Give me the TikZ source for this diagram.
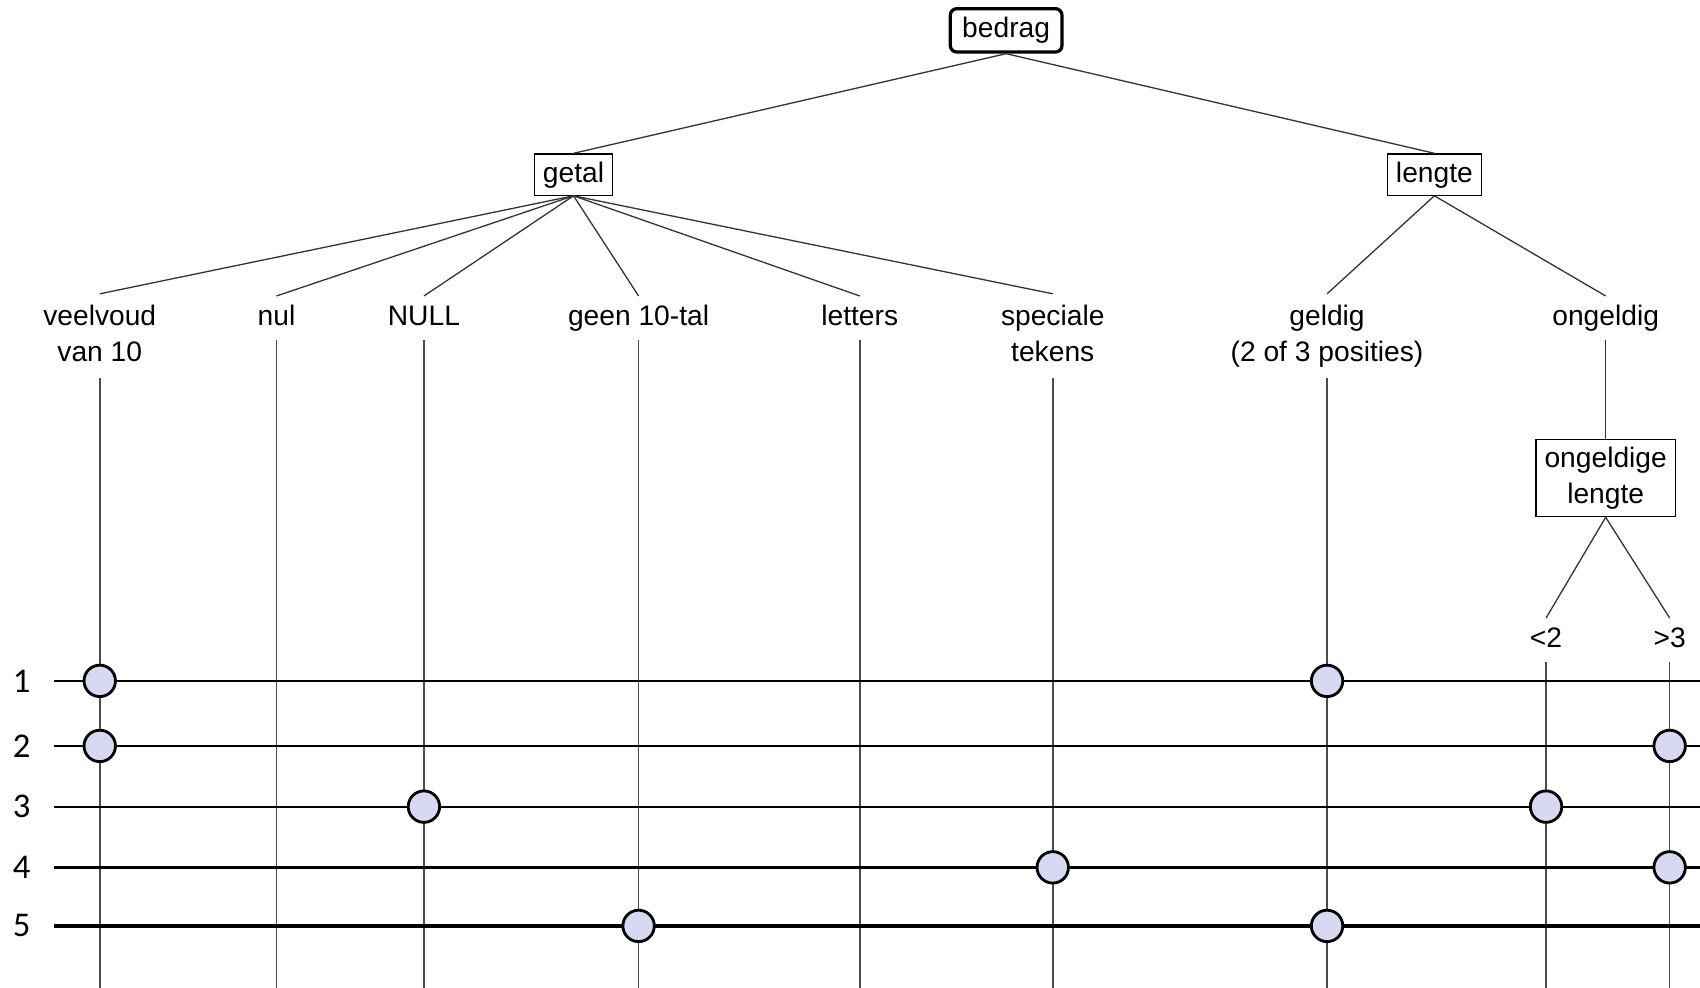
\documentclass[tikz,border=0pt]{standalone}
\usepackage{fontspec}
\setmainfont{Liberation Sans}
\newfontfamily\rowfont{Carlito}
\definecolor{dot}{RGB}{215,216,242}
\begin{document}
\begin{tikzpicture}[x=0.5pt,y=-0.5pt,
		font=\fontsize{13}{16.5}\selectfont,
		txt/.style={text height=9.5pt, text depth=2.5pt},
		txt2/.style={align=center, text height=26pt, text depth=2.5pt},
		box/.style={txt, draw, inner xsep=4pt, inner ysep=3.5pt, line width=0.6pt},
		box2/.style={txt2, draw, inner xsep=4pt, inner ysep=3.5pt, line width=0.6pt},
		leaf/.style={txt, anchor=north, inner sep=4pt},
		leaf2/.style={txt2, anchor=north, inner xsep=4pt, inner ysep=5pt},
		tak/.style={draw=black!80, line width=0.6pt},
		stam/.style={draw=black!70, line width=0.7pt},
		rij/.style={line width=1pt},
		dik/.style={line width=1.5pt},
		hit/.style={circle, draw, fill=dot, line width=1.3pt, minimum size=14.5pt, inner sep=0pt},
		nr/.style={font=\rowfont\fontsize{16}{16}\selectfont}]
		\useasboundingbox (0,0) rectangle (1568,911);
		
		% Nodes
		\node[box, rounded corners=3pt, line width=1.5pt, inner xsep=5.5pt, inner ysep=4pt] (bedrag) at (928,28) {bedrag};
		\node[box] (getal) at (529,161) {getal};
		\node[box] (lengte) at (1323,161) {lengte};
		
		\node[leaf2] (veelvoud) at (92,271) {veelvoud\\van 10};
		\node[leaf] (nul) at (255,273) {nul};
		\node[leaf] (NULL) at (391,273) {NULL};
		\node[leaf] (geen) at (589,273) {geen 10-tal};
		\node[leaf] (letters) at (793,273) {letters};
		\node[leaf2] (speciaal) at (971,271) {speciale\\tekens};
		\node[leaf2] (geldig) at (1224,271) {geldig\\(2 of 3 posities)};
		\node[leaf] (ongeldig) at (1481,273) {ongeldig};
		\node[box2] (onglengte) at (1481,441) {ongeldige\\lengte};
		\node[leaf] (kl) at (1426,570) {<2};
		\node[leaf] (gr) at (1540,570) {>3};
		
		% Edges
		\draw[tak] (bedrag.south) -- (getal.north);
		\draw[tak] (bedrag.south) -- (lengte.north);
		\draw[tak] (getal.south) -- (veelvoud.north);
		\draw[tak] (getal.south) -- (nul.north);
		\draw[tak] (getal.south) -- (NULL.north);
		\draw[tak] (getal.south) -- (geen.north);
		\draw[tak] (getal.south) -- (letters.north);
		\draw[tak] (getal.south) -- (speciaal.north);
		\draw[tak] (lengte.south) -- (geldig.north);
		\draw[tak] (lengte.south) -- (ongeldig.north);
		\draw[tak] (ongeldig.south) -- (onglengte.north);
		\draw[tak] (onglengte.south) -- (kl.north);
		\draw[tak] (onglengte.south) -- (gr.north);
		
		% Vertical lines down to the bottom
		\coordinate (bottom) at (0,911);
		\draw[stam] (veelvoud.south) -- (veelvoud |- bottom);
		\draw[stam] (nul.south) -- (nul |- bottom);
		\draw[stam] (NULL.south) -- (NULL |- bottom);
		\draw[stam] (geen.south) -- (geen |- bottom);
		\draw[stam] (letters.south) -- (letters |- bottom);
		\draw[stam] (speciaal.south) -- (speciaal |- bottom);
		\draw[stam] (geldig.south) -- (geldig |- bottom);
		\draw[stam] (kl.south) -- (kl |- bottom);
		\draw[stam] (gr.south) -- (gr |- bottom);
		
		% Test cases
		\node[nr] (n1) at (20,628) {1};
		\node[nr] (n2) at (20,688) {2};
		\node[nr] (n3) at (20,744) {3};
		\node[nr] (n4) at (20,800) {4};
		\node[nr] (n5) at (20,854) {5};
		\coordinate (r1) at (50,628);  \coordinate (e1) at (1568,628);
		\coordinate (r2) at (50,688);  \coordinate (e2) at (1568,688);
		\coordinate (r3) at (50,744);  \coordinate (e3) at (1568,744);
		\coordinate (r4) at (50,800);  \coordinate (e4) at (1568,800);
		\coordinate (r5) at (50,854);  \coordinate (e5) at (1568,854);
		\draw[rij] (r1) -- (e1);
		\draw[rij] (r2) -- (e2);
		\draw[rij] (r3) -- (e3);
		\draw[dik] (r4) -- (e4);
		\draw[dik] (r5) -- (e5);
		
		\node[hit] at (veelvoud |- r1) {};
		\node[hit] at (geldig |- r1) {};
		\node[hit] at (veelvoud |- r2) {};
		\node[hit] at (gr |- r2) {};
		\node[hit] at (NULL |- r3) {};
		\node[hit] at (kl |- r3) {};
		\node[hit] at (speciaal |- r4) {};
		\node[hit] at (gr |- r4) {};
		\node[hit] at (geen |- r5) {};
		\node[hit] at (geldig |- r5) {};
	\end{tikzpicture}
\end{document}
